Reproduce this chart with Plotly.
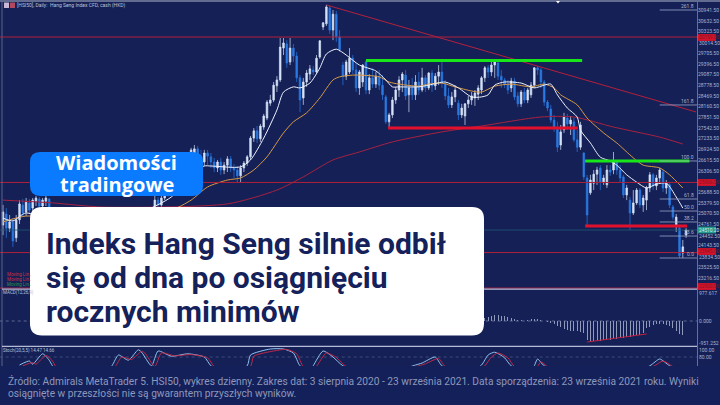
import plotly.graph_objects as go

opens = [24740,25060,24650,24830,24370,24890,25320,25120,25380,25230,25430,25490,25290,25430,25490,
25120,24940,24740,24890,24540,24370,24600,24310,24420,24190,24370,24540,24420,24650,24480,24710,24600,24830,24650,24890,24770,25000,24830,24940,24740,24940,25060,24890,25090,25000,25170,
25170,25460,25320,25520,25630,25750,25870,26100,26270,26390,26620,26730,
26760,26940,26730,26560,26820,26710,26560,26390,26560,26330,26470,26650,26390,26330,26160,26390,26530,26710,27250,27460,27230,27570,27830,28260,28350,28760,28930,29850,29970,29450,29850,29620,28990,28410,28870,29100,29220,29160,29590,30460,30550,31010,30370,30830,30170,29360,29040,29160,29560,29220,28700,28870,29450,28640,28990,28810,29040,28780,28440,27720,27920,28350,28640,28930,29070,28500,28700,28500,28870,28640,28990,28700,29130,28760,29040,29160,28810,28470,28210,28440,28260,27920,27890,28240,28350,28410,28520,28640,28990,29280,29160,29360,29420,29040,28930,28810,28700,28900,28470,28240,28580,28350,28500,28780,29280,29220,28870,28290,28090,27770,27540,27050,27490,27830,27660,27720,27200,26990,26820,26100,25670,25950,26210,26390,25980,25900,26330,26330,26590,26330,26130,25610,25460,25090,25380,25750,25320,25460,25810,26190,25870,26100,26270,25810,25900,25260,24740,24650,23930,24450]
closes = [25120,24650,24830,24280,24890,25350,25090,25400,25170,25460,25520,25290,25460,25520,25120,
24940,24740,24890,24540,24370,24600,24310,24420,24190,24370,24540,24420,24650,24480,24710,24600,24830,24650,24890,24770,25000,24830,24940,24740,24940,25060,24890,25090,25000,25170,25120,
25460,25320,25520,25630,25750,25870,26100,26270,26390,26620,26730,26910,
26940,26730,26560,26820,26730,26560,26390,26560,26330,26470,26650,26390,26330,26160,26390,26530,26710,27250,27460,27230,27600,27890,28290,28350,28780,28930,29880,30000,29420,29850,29620,28990,28350,28870,29130,29250,29160,29560,30060,30580,31040,30370,30830,30170,29800,29040,29450,29560,29220,28700,29160,29360,28640,28990,28810,29040,28780,28500,27720,27920,28350,28640,28930,29100,28470,28700,28500,28870,28640,28990,28700,29130,28760,29040,29160,28840,28470,28210,28440,28640,27920,28120,28240,28350,28470,28550,28700,28990,29280,29160,29360,29450,29040,28930,28810,28640,28900,28440,28240,28580,28350,28640,28780,29280,29220,28870,28290,28120,27770,27570,26990,27430,27860,27660,27770,27200,26990,27630,26130,25030,26040,26210,26330,25980,26100,26330,26270,26590,26330,26100,25610,25810,25090,25380,25750,25320,25520,25810,26190,25870,26100,26330,25810,25950,25320,24970,24970,23850,24110,24600]
highs = [25320,25230,25030,24940,25030,25460,25490,25520,25490,25520,25580,25550,25520,25580,25520,
25020,25020,24970,24970,24620,24680,24680,24500,24500,24450,24620,24620,24730,24730,24790,24790,24910,24910,24970,24970,25080,25080,25020,25020,25020,25140,25140,25170,25170,25250,25250,
25610,25550,25580,25690,25810,25930,26160,26330,26450,26680,26790,26970,
27050,27020,26910,26910,26910,26820,26680,26620,26680,26560,26730,26730,26500,26450,26470,26590,26760,27310,27540,27600,27660,27950,28350,28500,28870,29040,30140,30140,30080,30140,29970,29740,29070,28990,29220,29360,29330,29650,30080,30600,31100,31070,30950,30920,30370,29450,29510,29850,29650,29420,29220,29390,29510,29100,29280,29160,29220,29070,28500,27980,28440,28730,29040,29160,29220,28930,28990,29070,29160,29280,29070,29160,29220,29130,29360,29450,28930,28700,28580,28780,28350,28240,28260,28470,28580,28640,28780,29040,29330,29360,29450,29510,29510,29220,28990,28930,28990,28990,28580,28640,28700,28700,28870,29300,29330,29280,28930,28350,28210,27920,27720,27630,27980,27950,27890,27830,27490,27720,26850,26190,26190,26330,26420,26470,26190,26470,26470,26850,26620,26470,26190,25900,25550,25750,25810,25810,25610,25870,26270,26240,26190,26390,26330,26040,25950,25320,25060,24710,24310,24650]
lows = [24450,24370,24540,24110,24250,24770,24970,25000,25090,25120,25290,25170,25150,25290,25000,
24860,24660,24660,24460,24290,24290,24230,24230,24110,24110,24290,24340,24340,24400,24400,24520,24520,24570,24570,24690,24690,24750,24750,24660,24660,24860,24810,24810,24920,24920,25040,
25120,25230,25260,25460,25570,25690,25810,26040,26210,26330,26560,26670,
26620,26470,26450,26450,26470,26390,26270,26270,26190,26210,26270,26270,26100,25980,25980,26270,26450,26620,27140,27110,27140,27490,27770,28180,28290,28580,28870,29650,29280,29360,29450,28870,28000,28210,28730,28930,29070,29100,29540,30370,30490,30260,30080,30030,29740,28780,28930,29100,29100,28580,28500,28730,28520,28520,28700,28700,28640,28350,27660,27540,27830,28240,28440,28580,28350,28000,28350,28350,28500,28580,28580,28640,28580,28640,28780,28700,28350,28120,28120,28290,27770,27830,27630,28120,28210,28180,28350,28520,28870,28990,29040,28990,28930,28700,28700,28520,28580,28350,28150,28150,28260,28260,28410,28700,29070,28700,28180,28030,27690,27430,26850,26910,27400,27490,27340,27140,26850,26910,26040,24740,25610,25750,25900,25750,25900,25810,26160,26210,26190,25980,25520,25460,24600,25030,25320,25230,25120,25170,25690,25750,25750,25980,25690,25640,25230,24890,24540,23790,23790,24370]

ma_fast_idx = [0,3,7,17,29,42,51,57,61,63,72,75,79,83,85,88,90,93,96,98,101,104,108,113,116,118,120,126,129,134,138,142,145,147,149,152,157,161,164,166,168,171,174,175,178,181,184,186,189,192,195,198,201,204,206]
ma_fast = [24940,24860,25090,24740,24890,25120,25550,26190,26445,26445,26420,26620,27250,28060,28580,28730,28700,28840,29275,29680,29820,29650,29360,29190,28930,28730,28730,28730,28780,28870,28700,28440,28440,28500,28780,28870,28840,28700,28780,28810,28500,28120,27860,27480,27110,26700,26590,26470,26190,25980,25810,25920,25950,25550,25230]
ma_mid_idx = [0,7,20,40,51,57,62,68,72,76,80,85,88,92,96,100,102,106,108,114,117,120,126,129,133,137,142,145,149,154,160,164,167,169,174,177,182,186,191,194,199,202,206]
ma_mid = [24830,25000,24890,25030,25170,25460,25840,26040,26100,26330,26710,27400,27720,27980,28410,28930,29020,29070,29070,29020,28870,28810,28750,28810,28840,28730,28610,28580,28750,28810,28730,28810,28700,28500,28210,27830,27400,27110,26680,26470,26390,26190,25810]
ma_slow_idx = [0,15,30,68,83,91,100,108,118,133,145,163,173,185,199,206]
ma_slow = [25460,25380,25260,25350,25750,26130,26620,26850,27140,27430,27600,27860,27860,27570,27280,27080]

trend_idx = [98,210]
trend_val = [31095,28005]
h_red_levels = [30170,25970,23945,22920]
teal_level = 24596
green_segments = [(110,175.5,29490),(176.4,208,26590)]
red_segments = [(116.7,174.2,27540),(176.4,207.3,24710)]
fib_levels = [30950,28207,26590,25492,25145,24828,24423,23788]
fib_names = ["261.8","161.8","100.0","61.8","50.0","38.2","23.6","0.0"]
price_ticks = [30941.5,30632.5,30323.5,29705.5,29396.5,29087.5,28778.5,28469.5,28160.5,27851.5,27542.5,27233.5,26924.5,26615.5,26306.5,25688.5,25379.5,25070.5,24761.5,24143.5,23525.5,23216.5]
price_tags = ["30159.00","25966.00","23945.00","22920.00"]

hist_idx = list(range(146,207))
hist_val = [90,120,150,180,180,150,150,120,90,60,30,30,-5,20,60,60,60,30,-5,-30,-60,-90,-150,-180,-240,-270,-300,-300,-310,-330,-365,-580,-640,-620,-610,-600,-590,-580,-570,-560,-540,-530,-510,-490,-480,-460,-440,-420,-370,-220,-180,-120,-100,-90,-90,-110,-150,-210,-300,-390,-430]
div_idx = [177,195]
div_val = [-640,-395]

st_idx = [5,8,9,12,14,15,18,30,33,35,38,41,42,45,47,51,56,61,63,68,74,75,81,85,88,90,93,94,97,100,103,112,125,127,131,133,140,145,147,149,152,154,160,161,162,164,180,196,199,202,207]
st_main = [60,70,62,88,72,58,30,35,58,85,72,98,92,58,95,82,88,80,58,35,58,85,100,100,90,58,45,58,95,80,58,30,60,65,80,58,35,60,85,92,78,58,45,58,75,58,10,58,75,58,40]
sg_idx = [6,9,10,13,15,16,19,31,34,36,39,42,43,46,48,52,57,62,64,69,75,76,82,86,89,91,94,95,98,101,104,113,126,128,132,134,141,146,148,150,153,155,161,162,163,165,181,197,200,203,207]
sg_main = [58,66,62,84,70,56,30,35,56,80,74,94,90,56,90,83,86,78,56,35,56,82,95,99,88,56,45,56,90,79,56,30,58,63,76,56,35,58,80,90,78,56,45,56,68,56,10,56,70,56,40]

BG = "#152057"
W, H = 720, 405
fx = lambda x: x / W
fy = lambda y: 1 - y / H

fig = go.Figure()
fig.add_trace(go.Candlestick(x=list(range(len(opens))), open=opens, high=highs, low=lows, close=closes,
    increasing=dict(line=dict(color="#d5e2f7", width=0.7), fillcolor="#d5e2f7"),
    decreasing=dict(line=dict(color="#2a7ae2", width=0.7), fillcolor="#2a7ae2"),
    whiskerwidth=0, xaxis="x", yaxis="y"))

def line(x, y, color, width, yaxis="y", dash=None, shape="linear", smoothing=0.7, xaxis="x"):
    fig.add_trace(go.Scatter(x=x, y=y, mode="lines", xaxis=xaxis, yaxis=yaxis,
        line=dict(color=color, width=width, dash=dash, shape=shape, **({"smoothing": smoothing} if shape == "spline" else {}))))

line(ma_slow_idx, ma_slow, "#a8213f", 1, shape="spline")
line(ma_mid_idx, ma_mid, "#d79a45", 1, shape="spline")
line(ma_fast_idx, ma_fast, "#eef3ff", 1, shape="spline")
line(trend_idx, trend_val, "#b3203c", 1)
for lv in h_red_levels:
    line([-1, 210.3], [lv, lv], "#b0203a", 1)
line([-1, 210.3], [teal_level, teal_level], "#1f5a72", 0.8)
for a, b, v in green_segments:
    line([a, b], [v, v], "#19e619", 3)
for a, b, v in red_segments:
    line([a, b], [v, v], "#e3102c", 3)
for v in fib_levels:
    line([199, 210.3], [v, v], "#9aa6c8", 0.8)

fig.add_trace(go.Bar(x=hist_idx, y=hist_val, width=0.3, marker=dict(color="rgba(198,205,230,0.7)", line=dict(width=0)), xaxis="x", yaxis="y2"))
line([-1, 210.3], [0, 0], "#7c86aa", 0.7, yaxis="y2", dash="dot")
line(div_idx, div_val, "#c0203c", 1, yaxis="y2")
line([-1, 210.3], [80, 80], "#5d6892", 0.6, yaxis="y3", dash="dot")
line(st_idx, st_main, "#8fc4ee", 1, yaxis="y3", shape="spline", smoothing=0.6)
line(sg_idx, sg_main, "#c02848", 1, yaxis="y3", shape="spline", smoothing=0.6)

def rrect(x0, y0, x1, y1, r, fill):
    a, b, c, d = x0, y0, x1, y1
    px = lambda x, y: f"{fx(x):.5f},{fy(y):.5f}"
    path = (f"M{px(a+r,b)} L{px(c-r,b)} Q{px(c,b)} {px(c,b+r)} L{px(c,d-r)} Q{px(c,d)} {px(c-r,d)} "
            f"L{px(a+r,d)} Q{px(a,d)} {px(a,d-r)} L{px(a,b+r)} Q{px(a,b)} {px(a+r,b)} Z")
    return dict(type="path", path=path, xref="paper", yref="paper", fillcolor=fill, line=dict(width=0), layer="above")

def rect(x0, y0, x1, y1, fill, layer="above"):
    return dict(type="rect", xref="paper", yref="paper", x0=fx(x0), x1=fx(x1), y0=fy(y1), y1=fy(y0),
                fillcolor=fill, line=dict(width=0), layer=layer)

shapes = [
    rect(0, 0, 720, 2, "#626c90"),
    rect(1.5, 2, 2.5, 366, "#5a6488"),
    rect(697, 2, 697.8, 366, "#7a84a8"),
    rect(2, 288.6, 697, 289.8, "#b6bcd8"),
    rect(2, 345.8, 697, 347, "#b6bcd8"),
    rect(4, 2.5, 9, 8, "#c8b8d8"),
    rect(10, 2.5, 15, 8, "#b04860"),
]
tag_rows = [(37.5, "#d4142a"), (182.5, "#d4142a"), (251.5, "#d4142a"), (286.5, "#d4142a"), (230, "#2a9a8c")]
for y, c in tag_rows:
    shapes.append(rect(698, y - 3.4, 716, y + 3.4, c))
shapes += [
    dict(type="path", path=f"M{fx(556):.5f},{fy(1):.5f} L{fx(560):.5f},{fy(1):.5f} L{fx(558):.5f},{fy(3.5):.5f} Z",
         xref="paper", yref="paper", fillcolor="#ffffff", line=dict(width=0), layer="above"),
    rect(0, 366, 720, 405, "#14205a"),
    rrect(30, 152, 203, 196, 10, "#0a7bff"),
    rrect(30, 207, 484, 335.5, 12, "#ffffff"),
]

def txt(x, y, s, size, color, font="Roboto", anchor="left", valign="middle"):
    return dict(x=fx(x), y=fy(y), xref="paper", yref="paper", text=s, showarrow=False, xanchor=anchor, yanchor=valign,
                font=dict(family=font, size=size, color=color), align=anchor, borderpad=0, borderwidth=0)

anns = [
    txt(116.5, 162.5, "<b>Wiadomości</b>", 20, "#ffffff", font="Open Sans", anchor="center"),
    txt(116.5, 184, "<b>tradingowe</b>", 20, "#ffffff", font="Open Sans", anchor="center"),
    txt(46, 243, "<b>Indeks Hang Seng silnie odbił</b>", 30, "#14215a"),
    txt(46, 277, "<b>się od dna po osiągnięciu</b>", 30, "#14215a"),
    txt(46, 311, "<b>rocznych minimów</b>", 30, "#14215a"),
    txt(8, 381, "Źródło: Admirals MetaTrader 5. HSI50, wykres dzienny. Zakres dat: 3 sierpnia 2020 - 23 września 2021. Data sporządzenia: 23 września 2021 roku. Wyniki", 10.2, "#8d98ba"),
    txt(8, 393, "osiągnięte w przeszłości nie są gwarantem przyszłych wyników.", 10.2, "#8d98ba"),
    txt(17, 5.5, "[HSI50], Daily:  Hang Seng Index CFD, cash (HKD)", 5, "#b8c0d8"),
    txt(3, 292.5, "MACD(12,26,9)", 4.5, "#b8c0d8"),
    txt(3, 350.5, "Stoch(20,5,5) 14.47 14.66", 4.5, "#b8c0d8"),
    txt(7, 274, "Moving Lin..", 4.5, "#d03040"),
    txt(7, 279, "Moving Lin..", 4.5, "#d03040"),
    txt(7, 284, "Moving Lin..", 4.5, "#2f8f4a"),
    txt(699, 292.5, "977.617", 5, "#aab4d0"),
    txt(699, 321, "0.000", 5, "#aab4d0"),
    txt(699, 343, "-951.252", 5, "#aab4d0"),
    txt(699, 349.5, "100.00", 5, "#aab4d0"),
    txt(699, 357, "80.00", 5, "#aab4d0"),
    txt(699, 43, "30014.50", 5, "#aab4d0"),
    txt(699, 236, "24452.50", 5, "#aab4d0"),
    txt(699, 257, "23834.50", 5, "#aab4d0"),
]
for (y, _), s in zip(tag_rows, price_tags + ["24510.20"]):
    anns.append(txt(699, y, s, 4.8, "#8c1020" if s != "24510.20" else "#cfeee8"))
for v, n in zip(fib_levels, fib_names):
    anns.append(dict(x=209.8, y=v, xref="x", yref="y", text=n, showarrow=False, xanchor="right", yanchor="bottom",
                     font=dict(family="Roboto", size=5, color="#aab4d0"), borderpad=0))

fig.update_layout(
    width=W, height=H, autosize=False, margin=dict(l=0, r=0, t=0, b=0),
    paper_bgcolor=BG, plot_bgcolor=BG, showlegend=False, bargap=0,
    shapes=shapes, annotations=anns,
    xaxis=dict(domain=[0, 697 / W], range=[-0.909, 210.3], visible=False, rangeslider=dict(visible=False), fixedrange=True),
    yaxis=dict(domain=[fy(289), fy(2)], range=[22893, 31181], side="right", tickmode="array", tickvals=price_ticks,
               ticktext=[f"{v:.2f}" for v in price_ticks], tickfont=dict(family="Roboto", size=5, color="#aab4d0"),
               showgrid=False, zeroline=False, showline=False, ticks="", ticklabelposition="outside"),
    yaxis2=dict(domain=[fy(346), fy(290)], range=[-761, 944], visible=False, anchor="x"),
    yaxis3=dict(domain=[fy(389), fy(347)], range=[0, 105], visible=False, anchor="x"),
)
fig.write_html("out.html", config={"displayModeBar": False},
               post_script="document.body.style.margin='0';document.documentElement.style.overflow='hidden';")
